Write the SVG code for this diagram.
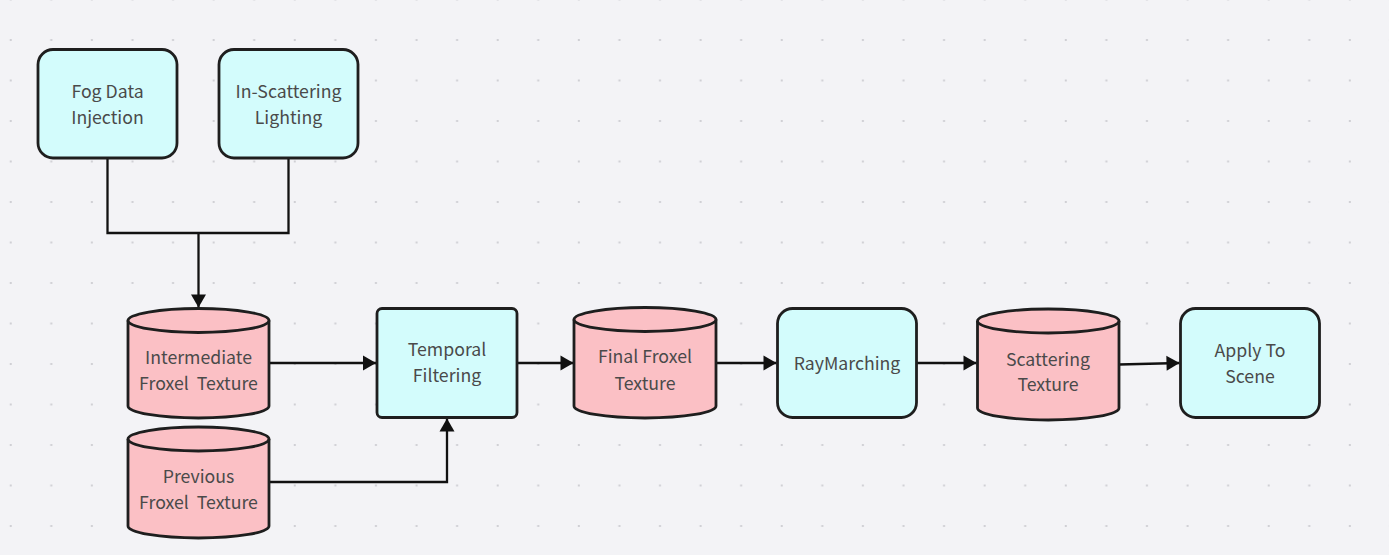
<svg xmlns="http://www.w3.org/2000/svg" width="1389" height="555" viewBox="0 0 1389 555">
<style>
.bg{fill:#f3f3f6}
.proc{fill:#d3fcfc;stroke:#1e1e1e;stroke-width:2.8}
.store{fill:#fbc0c5;stroke:#1e1e1e;stroke-width:2.8}
.cap{fill:none;stroke:#1e1e1e;stroke-width:2.8}
.lbl{font-family:"Noto Sans CJK SC","Noto Sans","Liberation Sans",sans-serif;font-size:17.7px;fill:#4a4a4a;text-anchor:middle;white-space:pre}
.edge{fill:none;stroke:#111;stroke-width:2.3}
</style>
<defs>
<pattern id="dots" patternUnits="userSpaceOnUse" x="0" y="-1.5" width="40.58" height="40.5">
<rect x="9.7" y="0" width="2" height="2" fill="#cfcfd4"/>
</pattern>
<marker id="arr" markerUnits="userSpaceOnUse" markerWidth="16" markerHeight="16" viewBox="0 0 16 16" refX="14" refY="8" orient="auto">
<path d="M1,0.5 L14,8 L1,15.5 Z" fill="#111"/>
</marker>
</defs>
<rect class="bg" x="0" y="0" width="1389" height="555"/>
<rect x="0" y="0" width="1389" height="555" fill="url(#dots)"/>

<g id="connectors">
<path class="edge" d="M107.5,158 V233 H288.5 V158"/>
<path class="edge" d="M198.5,233 V307.5" marker-end="url(#arr)"/>
<path class="edge" d="M269,363 H376" marker-end="url(#arr)"/>
<path class="edge" d="M269,482 H447 V418.5" marker-end="url(#arr)"/>
<path class="edge" d="M517,363 H573.5" marker-end="url(#arr)"/>
<path class="edge" d="M716,363 H776.5" marker-end="url(#arr)"/>
<path class="edge" d="M917,363 H976.5" marker-end="url(#arr)"/>
<path class="edge" d="M1119,364.5 L1179.5,363" marker-end="url(#arr)"/>
</g>

<g id="fog-data-injection">
<rect class="proc" x="38" y="49.5" width="139" height="108.5" rx="15"/>
<text class="lbl" x="107.5" y="97.5">Fog Data</text>
<text class="lbl" x="107.5" y="124">Injection</text>
</g>

<g id="in-scattering-lighting">
<rect class="proc" x="219" y="49.5" width="139" height="108.5" rx="15"/>
<text class="lbl" x="288.5" y="97.5">In-Scattering</text>
<text class="lbl" x="288.5" y="123.5">Lighting</text>
</g>

<g id="intermediate-froxel-texture">
<path class="store" d="M128,320.5 A70.5,12 0 0 1 269,320.5 V406 A70.5,12 0 0 1 128,406 Z"/>
<path class="cap" d="M128,320.5 A70.5,12 0 0 0 269,320.5"/>
<text class="lbl" x="198.5" y="364">Intermediate</text>
<text class="lbl" x="198.5" y="390">Froxel  Texture</text>
</g>

<g id="previous-froxel-texture">
<path class="store" d="M128,439 A70.5,12 0 0 1 269,439 V526 A70.5,12 0 0 1 128,526 Z"/>
<path class="cap" d="M128,439 A70.5,12 0 0 0 269,439"/>
<text class="lbl" x="198.5" y="482.5">Previous</text>
<text class="lbl" x="198.5" y="509">Froxel  Texture</text>
</g>

<g id="temporal-filtering">
<rect class="proc" x="377" y="308.5" width="140" height="109" rx="5"/>
<text class="lbl" x="447" y="355.5">Temporal</text>
<text class="lbl" x="447" y="381.5">Filtering</text>
</g>

<g id="final-froxel-texture">
<path class="store" d="M574,319.5 A71,12 0 0 1 716,319.5 V406 A71,12 0 0 1 574,406 Z"/>
<path class="cap" d="M574,319.5 A71,12 0 0 0 716,319.5"/>
<text class="lbl" x="645" y="363">Final Froxel</text>
<text class="lbl" x="645" y="390">Texture</text>
</g>

<g id="raymarching">
<rect class="proc" x="777.5" y="308.5" width="139" height="109" rx="15"/>
<text class="lbl" x="847" y="369.5">RayMarching</text>
</g>

<g id="scattering-texture">
<path class="store" d="M977.5,321 A70.75,12 0 0 1 1119,321 V408 A70.75,12 0 0 1 977.5,408 Z"/>
<path class="cap" d="M977.5,321 A70.75,12 0 0 0 1119,321"/>
<text class="lbl" x="1048" y="366">Scattering</text>
<text class="lbl" x="1048" y="391">Texture</text>
</g>

<g id="apply-to-scene">
<rect class="proc" x="1180.5" y="308.5" width="139" height="109" rx="15"/>
<text class="lbl" x="1250" y="356.5">Apply To</text>
<text class="lbl" x="1250" y="382.5">Scene</text>
</g>
</svg>
